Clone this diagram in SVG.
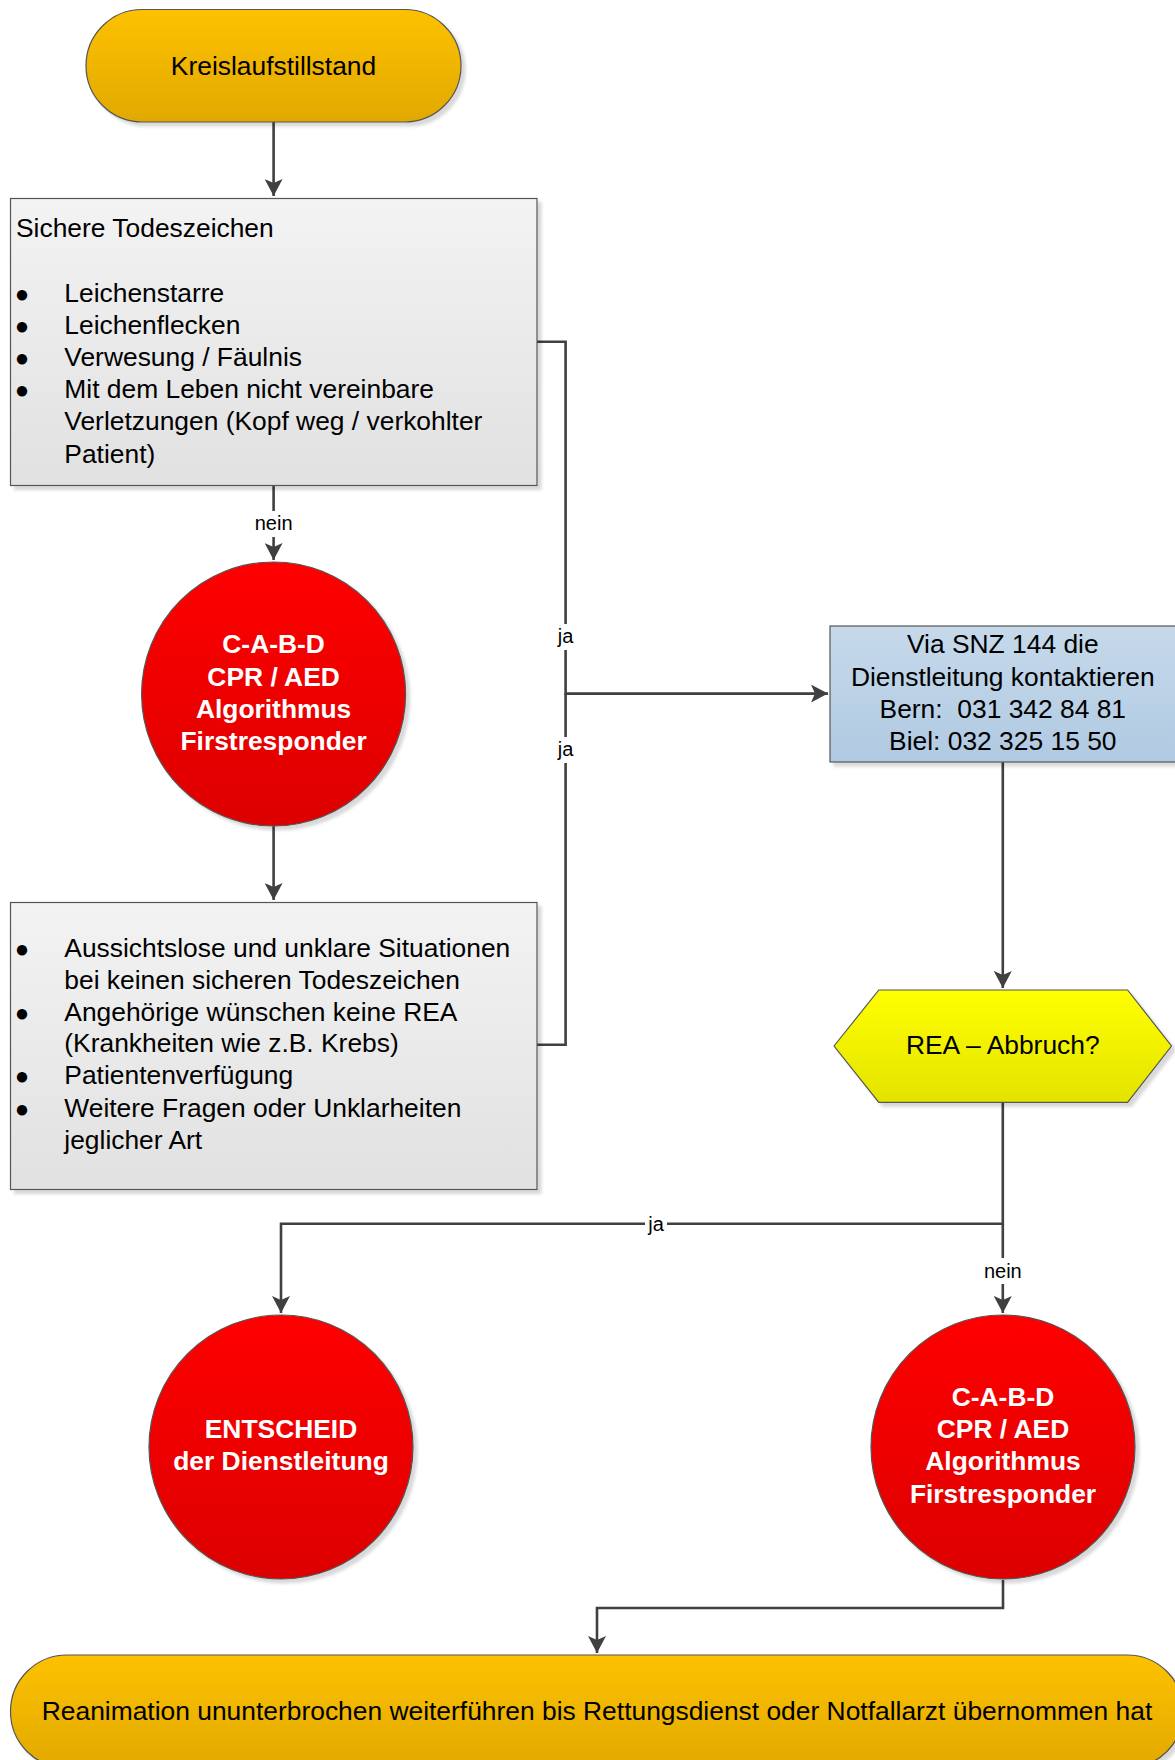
<svg xmlns="http://www.w3.org/2000/svg" width="1175" height="1760" viewBox="0 0 1175 1760">
<style>
  text { font-family: "Liberation Sans", Arial, sans-serif; }
  .t { font-size: 26.4px; fill: #000; }
  .b { font-size: 24px; fill: #000; }
  .w { font-size: 26.4px; fill: #fff; font-weight: bold; }
  .lbl { font-size: 20px; fill: #000; }
  .shape { stroke: #555; stroke-width: 1.2; }
  .conn { fill: none; stroke: #404040; stroke-width: 2.6; }
  .bg { fill: #fff; }
</style>
<defs>
  <linearGradient id="gOrange" x1="0" y1="0" x2="0" y2="1">
    <stop offset="0" stop-color="#FEC100"/>
    <stop offset="1" stop-color="#E1A900"/>
  </linearGradient>
  <linearGradient id="gGrey" x1="0" y1="0" x2="0" y2="1">
    <stop offset="0" stop-color="#F3F3F3"/>
    <stop offset="1" stop-color="#E1E1E1"/>
  </linearGradient>
  <linearGradient id="gRed" x1="0" y1="0" x2="0" y2="1">
    <stop offset="0" stop-color="#FF0000"/>
    <stop offset="1" stop-color="#DC0000"/>
  </linearGradient>
  <linearGradient id="gBlue" x1="0" y1="0" x2="0" y2="1">
    <stop offset="0" stop-color="#C6D9EB"/>
    <stop offset="1" stop-color="#B0CAE2"/>
  </linearGradient>
  <linearGradient id="gYellow" x1="0" y1="0" x2="0" y2="1">
    <stop offset="0" stop-color="#FFFF00"/>
    <stop offset="1" stop-color="#E3E300"/>
  </linearGradient>
  <filter id="sh" x="-10%" y="-10%" width="125%" height="125%">
    <feDropShadow dx="4" dy="4" stdDeviation="1.5" flood-color="#000" flood-opacity="0.15"/>
  </filter>
  <marker id="arr" markerUnits="userSpaceOnUse" markerWidth="18" markerHeight="18" refX="17" refY="9" orient="auto">
    <path d="M0,0 L17,9 L0,18 L4,9 Z" fill="#404040"/>
  </marker>
</defs>

<g id="connectors">
  <path class="conn" d="M273.6,122 V196" marker-end="url(#arr)"/>
  <path class="conn" d="M273.6,486 V560" marker-end="url(#arr)"/>
  <path class="conn" d="M273.6,826 V900" marker-end="url(#arr)"/>
  <path class="conn" d="M537,341.7 H565.6 V693.6 H828" marker-end="url(#arr)"/>
  <path class="conn" d="M537,1044.7 H565.6 V693.6"/>
  <path class="conn" d="M1002.8,762 V988" marker-end="url(#arr)"/>
  <path class="conn" d="M1002.8,1102 V1223.7 H281 V1313" marker-end="url(#arr)"/>
  <path class="conn" d="M1002.8,1223.7 V1313" marker-end="url(#arr)"/>
  <path class="conn" d="M1003,1580 V1608 H597 V1653" marker-end="url(#arr)"/>
  <rect class="bg" x="252" y="511" width="44" height="26"/>
  <text class="lbl" x="273.6" y="530" text-anchor="middle">nein</text>
  <rect class="bg" x="555" y="624" width="22" height="26"/>
  <text class="lbl" x="565.6" y="643" text-anchor="middle">ja</text>
  <rect class="bg" x="555" y="737" width="22" height="26"/>
  <text class="lbl" x="565.6" y="756" text-anchor="middle">ja</text>
  <rect class="bg" x="645" y="1212" width="22" height="26"/>
  <text class="lbl" x="656" y="1231" text-anchor="middle">ja</text>
  <rect class="bg" x="981" y="1258" width="44" height="26"/>
  <text class="lbl" x="1002.8" y="1278" text-anchor="middle">nein</text>
</g>

<g id="start">
  <rect class="shape" x="86" y="9.5" width="375" height="112.5" rx="56.25" fill="url(#gOrange)" filter="url(#sh)"/>
  <text class="t" x="273.5" y="74.5" text-anchor="middle">Kreislaufstillstand</text>
</g>

<g id="todeszeichen">
  <rect class="shape" x="10.5" y="198.5" width="526.5" height="287" fill="url(#gGrey)" filter="url(#sh)"/>
  <text class="t" x="16" y="236.7">Sichere Todeszeichen</text>
  <text class="b" x="14.8" y="301.5">●</text>
  <text class="t" x="64.3" y="301.5">Leichenstarre</text>
  <text class="b" x="14.8" y="333.7">●</text>
  <text class="t" x="64.3" y="333.7">Leichenflecken</text>
  <text class="b" x="14.8" y="365.9">●</text>
  <text class="t" x="64.3" y="365.9">Verwesung / Fäulnis</text>
  <text class="b" x="14.8" y="398.1">●</text>
  <text class="t" x="64.3" y="398.1">Mit dem Leben nicht vereinbare</text>
  <text class="t" x="64.3" y="430.3">Verletzungen (Kopf weg / verkohlter</text>
  <text class="t" x="64.3" y="462.5">Patient)</text>
</g>

<g id="cpr1">
  <circle class="shape" cx="273.6" cy="694" r="132" fill="url(#gRed)" filter="url(#sh)"/>
  <text class="w" x="273.6" y="653.3" text-anchor="middle">C-A-B-D</text>
  <text class="w" x="273.6" y="685.5" text-anchor="middle">CPR / AED</text>
  <text class="w" x="273.6" y="717.7" text-anchor="middle">Algorithmus</text>
  <text class="w" x="273.6" y="749.9" text-anchor="middle">Firstresponder</text>
</g>

<g id="situationen">
  <rect class="shape" x="10.5" y="902.5" width="526.5" height="287" fill="url(#gGrey)" filter="url(#sh)"/>
  <text class="b" x="14.8" y="956.7">●</text>
  <text class="t" x="64.3" y="956.7">Aussichtslose und unklare Situationen</text>
  <text class="t" x="64.3" y="988.6">bei keinen sicheren Todeszeichen</text>
  <text class="b" x="14.8" y="1020.5">●</text>
  <text class="t" x="64.3" y="1020.5">Angehörige wünschen keine REA</text>
  <text class="t" x="64.3" y="1052.4">(Krankheiten wie z.B. Krebs)</text>
  <text class="b" x="14.8" y="1084.3">●</text>
  <text class="t" x="64.3" y="1084.3">Patientenverfügung</text>
  <text class="b" x="14.8" y="1116.9">●</text>
  <text class="t" x="64.3" y="1116.9">Weitere Fragen oder Unklarheiten</text>
  <text class="t" x="64.3" y="1148.6">jeglicher Art</text>
</g>

<g id="dienstleitung">
  <rect class="shape" x="830" y="626" width="346" height="136" fill="url(#gBlue)" filter="url(#sh)"/>
  <text class="t" x="1002.8" y="653.3" text-anchor="middle">Via SNZ 144 die</text>
  <text class="t" x="1002.8" y="685.6" text-anchor="middle">Dienstleitung kontaktieren</text>
  <text class="t" x="1002.8" y="717.8" text-anchor="middle" xml:space="preserve">Bern:  031 342 84 81</text>
  <text class="t" x="1002.8" y="750" text-anchor="middle">Biel: 032 325 15 50</text>
</g>

<g id="abbruch">
  <polygon class="shape" points="834,1046 878.8,990 1127.6,990 1171.5,1046 1127.6,1102.4 878.8,1102.4" fill="url(#gYellow)" filter="url(#sh)"/>
  <text class="t" x="1002.8" y="1054" text-anchor="middle">REA – Abbruch?</text>
</g>

<g id="entscheid">
  <circle class="shape" cx="281" cy="1447" r="132" fill="url(#gRed)" filter="url(#sh)"/>
  <text class="w" x="281" y="1438" text-anchor="middle">ENTSCHEID</text>
  <text class="w" x="281" y="1470.2" text-anchor="middle">der Dienstleitung</text>
</g>

<g id="cpr2">
  <circle class="shape" cx="1003" cy="1447" r="132" fill="url(#gRed)" filter="url(#sh)"/>
  <text class="w" x="1003" y="1406" text-anchor="middle">C-A-B-D</text>
  <text class="w" x="1003" y="1438.2" text-anchor="middle">CPR / AED</text>
  <text class="w" x="1003" y="1470.4" text-anchor="middle">Algorithmus</text>
  <text class="w" x="1003" y="1502.6" text-anchor="middle">Firstresponder</text>
</g>

<g id="ende">
  <rect class="shape" x="10.5" y="1655" width="1173" height="113" rx="56.5" fill="url(#gOrange)" filter="url(#sh)"/>
  <text class="t" x="597" y="1720" text-anchor="middle">Reanimation ununterbrochen weiterführen bis Rettungsdienst oder Notfallarzt übernommen hat</text>
</g>
</svg>
